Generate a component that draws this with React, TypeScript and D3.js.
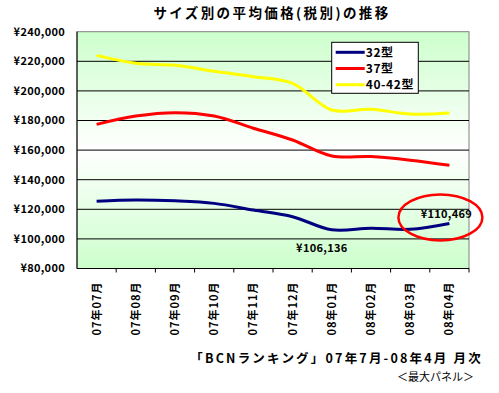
import React from "react";
import * as d3 from "d3";

const months = ["07年07月", "07年08月", "07年09月", "07年10月", "07年11月", "07年12月", "08年01月", "08年02月", "08年03月", "08年04月"];
const size32 = [125400, 126300, 125700, 124000, 119500, 115000, 106136, 107200, 106500, 110469];
const size37 = [177400, 183000, 185300, 183000, 174800, 166800, 156000, 155600, 153200, 149700];
const size40 = [224000, 218700, 217300, 213300, 209600, 205100, 187100, 187600, 184400, 185100];
const yTicks = [80000, 100000, 120000, 140000, 160000, 180000, 200000, 220000, 240000];

const series = [
  { name: "32型", values: size32, color: "#000080" },
  { name: "37型", values: size37, color: "#ff0000" },
  { name: "40-42型", values: size40, color: "#ffff00" },
];

const W = 499, H = 393;
const margin = { top: 31.7, left: 77, right: 30, bottom: 124.5 };
const fontBold = "'MS PGothic', 'Noto Sans CJK JP', sans-serif";

export default function App() {
  const width = W - margin.left - margin.right;
  const height = H - margin.top - margin.bottom;

  const x = d3.scaleBand().domain(months).range([0, width]);
  const y = d3.scaleLinear().domain([80000, 240000]).range([height, 0]);
  const cx = (i: number) => (x(months[i]) as number) + x.bandwidth() / 2;

  const line = d3.line<number>()
    .x((d, i) => cx(i))
    .y(d => y(d))
    .curve(d3.curveCatmullRom.alpha(0.5));

  const fmt = (v: number) => "¥" + d3.format(",")(v);

  return (
    <svg width={W} height={H} style={{ position: "absolute", left: 0, top: 0, background: "#fff" }}>
      <defs>
        <linearGradient id="bg" x1="0" y1="0" x2="0" y2="1">
          <stop offset="0" stopColor="#ccffcc" />
          <stop offset="0.5" stopColor="#ffffff" />
          <stop offset="1" stopColor="#ccffcc" />
        </linearGradient>
      </defs>

      <text x={272} y={18} textAnchor="middle" fontFamily={fontBold} fontWeight="bold" fontSize={13.5} letterSpacing={2.4}>
        サイズ別の平均価格(税別)の推移
      </text>

      <g transform={`translate(${margin.left},${margin.top})`}>
        <rect width={width} height={height} fill="url(#bg)" stroke="#808080" strokeWidth={1} />
        {yTicks.map(t => (
          <g key={t}>
            {t > 80000 && t < 240000 && (
              <line x1={0} x2={width} y1={y(t)} y2={y(t)} stroke="#000" strokeWidth={1} />
            )}
            <text x={-12} y={y(t)} dy="0.35em" textAnchor="end" fontFamily={fontBold} fontWeight="bold" fontSize={11} letterSpacing={0.3}>
              {fmt(t)}
            </text>
          </g>
        ))}
        <line x1={0} x2={0} y1={0} y2={height} stroke="#000" />
        <line x1={0} x2={width} y1={height} y2={height} stroke="#000" />
        {months.map((m, i) => (
          <g key={m}>
            {i > 0 && (
              <line x1={x(m)} x2={x(m)} y1={height} y2={height + 4} stroke="#000" />
            )}
            <text
              transform={`translate(${cx(i) + 4},${height + 13}) rotate(-90)`}
              textAnchor="end"
              fontFamily={fontBold}
              fontWeight="bold"
              fontSize={11}
              letterSpacing={1}
            >
              {m}
            </text>
          </g>
        ))}
        <line x1={width} x2={width} y1={height} y2={height + 4} stroke="#000" />

        {series.map(s => (
          <path key={s.name} d={line(s.values) || ""} fill="none" stroke={s.color} strokeWidth={3} />
        ))}

        <text x={cx(6) - 10} y={y(size32[6]) + 22} textAnchor="middle" fontFamily={fontBold} fontWeight="bold" fontSize={11} letterSpacing={0.3}>
          {fmt(size32[6])}
        </text>
        <text x={cx(9) - 3} y={y(size32[9]) - 5} textAnchor="middle" fontFamily={fontBold} fontWeight="bold" fontSize={11} letterSpacing={0.3}>
          {fmt(size32[9])}
        </text>
        <ellipse cx={cx(9) - 9} cy={y(size32[9]) - 6} rx={42} ry={23} fill="none" stroke="#ff0000" strokeWidth={2.5} />

        <g transform={`translate(${331.7 - margin.left},${42.3 - margin.top})`}>
          <rect width={86.6} height={51} fill="#fff" stroke="#000" />
          {series.map((s, i) => (
            <g key={s.name} transform={`translate(0,${10 + i * 16.2})`}>
              <line x1={4} x2={33} y1={0} y2={0} stroke={s.color} strokeWidth={3} />
              <text x={34} y={0} dy="0.35em" fontFamily={fontBold} fontWeight="bold" fontSize={12} letterSpacing={0.6}>
                {s.name}
              </text>
            </g>
          ))}
        </g>
      </g>

      <text x={483} y={363} textAnchor="end" fontFamily={fontBold} fontWeight="bold" fontSize={12.5} letterSpacing={2.2}>
        「BCNランキング」07年7月-08年4月 月次
      </text>
      <text x={474} y={381} textAnchor="end" fontFamily={fontBold} fontSize={11}>
        ＜最大パネル＞
      </text>
    </svg>
  );
}
